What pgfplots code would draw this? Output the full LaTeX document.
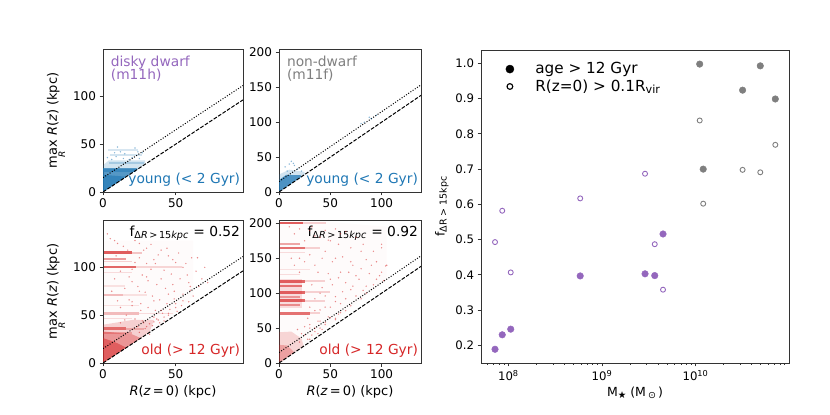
\documentclass[border=0pt]{standalone}
\usepackage{fontspec}
\setmainfont{DejaVu Sans}
\usepackage{pgfplots}
\pgfplotsset{compat=1.18}
\definecolor{tblue}{HTML}{1F77B4}
\definecolor{tred}{HTML}{D62728}
\definecolor{tpurple}{HTML}{9467BD}
\definecolor{tgray}{HTML}{7F7F7F}
\newcommand{\fsz}[1]{\fontsize{#1bp}{#1bp}\selectfont}
\newcommand{\sub}[2]{\raisebox{-0.28ex}{\fsz{#1}#2}}
\newcommand{\maxR}{\ensuremath{\mathop{\hbox{max}}\limits_{\hbox{\fsz{9}\itshape R}}}}
\pgfplotsset{
  panel/.style={
    scale only axis, anchor=south west,
    axis line style={black!80, line width=0.8bp},
    tick align=outside, tick pos=left,
    major tick length=3.5bp, minor tick length=2bp,
    every tick/.style={black!80, line width=0.8bp},
    ticklabel style={font=\fsz{12}},
    label style={font=\fsz{13}},
    /pgf/number format/assume math mode=true,
  },
  small/.style={panel, width=140bp, height=143bp, xmin=0, xmax=96.3, ymin=0, ymax=149.5,
    xtick={0,50}, xticklabels={0,50}, ytick={0,50,100}, yticklabels={0,50,100}},
  big/.style={panel, width=142bp, height=143bp, xmin=0, xmax=138.4, ymin=0, ymax=204.8,
    xtick={0,50,100}, xticklabels={0,50,100}, ytick={0,50,100,150,200}, yticklabels={0,50,100,150,200}},
  dotl/.style={black, line width=1bp, dash pattern=on 1bp off 1.65bp},
  dasl/.style={black, line width=1bp, dash pattern=on 3.7bp off 1.6bp},
  streak/.style 2 args={tred, line width=#1bp, opacity=#2},
  bstreak/.style 2 args={tblue, line width=#1bp, opacity=#2},
  speck/.style={only marks, mark=*, mark size=0.55bp, color=#1, opacity=0.35},
  myleg/.style={legend image code/.code={\path[draw=none,fill=none] (0bp,-3bp) rectangle (29.9bp,3bp); \draw[##1] plot coordinates {(6.4bp,0bp)};}},
}
\begin{document}
\begin{tikzpicture}
\useasboundingbox (0,0) rectangle (830bp,415bp);

% ---------------- top-left: young, m11h
\begin{axis}[small, at={(103bp,223bp)},
  ylabel={\maxR\ \textit{R}(\textit{z}) (kpc)}]
\addplot[fill=tblue, draw=none, fill opacity=0.2] coordinates {(0,0) (29,29) (29,33) (4,33) (0,28)} -- cycle;
\addplot[fill=tblue, draw=none, fill opacity=0.7] coordinates {(0,0) (24,24) (23,25) (0,25)} -- cycle;
\addplot[fill=tblue, draw=none, fill opacity=0.6] coordinates {(0,0) (16,16) (0,18)} -- cycle;
\addplot[bstreak={2}{0.18}] coordinates {(3.7,44.4) (24,44.4)};
\addplot[bstreak={2}{0.2}] coordinates {(5,38.5) (27,38.5)};
\addplot[bstreak={2}{0.25}] coordinates {(4,30) (28,30)};
\addplot[bstreak={2.5}{0.5}] coordinates {(0,22.5) (23,22.5)};
\addplot[speck=tblue] coordinates {(8,41) (12,42) (15,40) (20,36) (6,34) (18,34) (25,35) (10,47) (22,46) (27,41) (3,36) (14,35) (9,37) (24,42)};
\addplot[dotl] coordinates {(0,15) (96.3,111.3)};
\addplot[dasl] coordinates {(0,0) (96.3,96.3)};
\node[anchor=north west, align=left, text=tpurple, font=\fsz{13.8}, inner sep=0pt]
  at (rel axis cs:0.055,0.955) {disky dwarf\\(m11h)};
\node[anchor=south east, text=tblue, font=\fsz{13.8}, inner sep=0pt]
  at (rel axis cs:0.98,0.04) {young (< 2 Gyr)};
\end{axis}

% ---------------- top-right: young, m11f
\begin{axis}[big, at={(279bp,223bp)}]
\addplot[fill=tblue, draw=none, fill opacity=0.2] coordinates {(0,0) (26,26) (24,29) (10,32) (0,25)} -- cycle;
\addplot[fill=tblue, draw=none, fill opacity=0.75] coordinates {(0,0) (22,22) (21,24) (7,24.5) (0,17)} -- cycle;
\addplot[speck=tblue] coordinates {(12,44) (10,40) (15,38) (6,36) (18,33) (8,30) (22,30) (80,98) (83,100) (90,105) (95,110) (88,107) (14,41)};
\addplot[dotl] coordinates {(0,15) (138.4,153.4)};
\addplot[dasl] coordinates {(0,0) (138.4,138.4)};
\node[anchor=north west, align=left, text=tgray, font=\fsz{13.8}, inner sep=0pt]
  at (rel axis cs:0.055,0.955) {non-dwarf\\(m11f)};
\node[anchor=south east, text=tblue, font=\fsz{13.8}, inner sep=0pt]
  at (rel axis cs:0.98,0.04) {young (< 2 Gyr)};
\end{axis}

% ---------------- bottom-left: old, m11h
\begin{axis}[small, at={(103bp,52bp)},
  ylabel={\maxR\ \textit{R}(\textit{z}) (kpc)},
  xlabel={\textit{R}(\textit{z}\,=\,0) (kpc)}]
\addplot[fill=tred, draw=none, fill opacity=0.02] coordinates {(0,0) (40,40) (62,70) (62,128) (0,128)} -- cycle;
\addplot[fill=tred, draw=none, fill opacity=0.2] coordinates {(0,0) (32,32) (35,45) (20,45) (0,40)} -- cycle;
\addplot[fill=tred, draw=none, fill opacity=0.35] coordinates {(0,0) (26,26) (20,30) (0,33)} -- cycle;
\addplot[fill=tred, draw=none, fill opacity=0.5] coordinates {(0,0) (16,16) (8,22) (0,26)} -- cycle;
\addplot[streak={3}{0.75}] coordinates {(0.7,115) (20,115)};
\addplot[streak={2.5}{0.25}] coordinates {(20,115) (27,115)};
\addplot[streak={1.5}{0.45}] coordinates {(0.7,108.8) (16,108.8)};
\addplot[streak={1.5}{0.2}] coordinates {(0.7,106) (20,106)};
\addplot[streak={2.5}{0.7}] coordinates {(0.7,100.4) (23,100.4)};
\addplot[streak={1.5}{0.18}] coordinates {(23,100.4) (54,100.4)};
\addplot[streak={1.5}{0.15}] coordinates {(0.7,94.7) (20,94.7)};
\addplot[streak={1.5}{0.12}] coordinates {(0.7,80.7) (15,80.7)};
\addplot[streak={2}{0.3}] coordinates {(0.7,71.2) (14,71.2)};
\addplot[streak={1.5}{0.12}] coordinates {(14,71.2) (30,71.2)};
\addplot[streak={1.5}{0.12}] coordinates {(0.7,60) (25,60)};
\addplot[streak={2.5}{0.3}] coordinates {(0.7,52) (25,52)};
\addplot[streak={1.5}{0.15}] coordinates {(25,52) (48,52)};
\addplot[streak={1.5}{0.15}] coordinates {(0,46.7) (20,46.7)};
\addplot[streak={3}{0.6}] coordinates {(0.7,36) (16,36)};
\addplot[streak={2}{0.25}] coordinates {(16,36) (28,36)};
\addplot[streak={2}{0.3}] coordinates {(0,31) (20,31)};
\addplot[speck=tred] coordinates {(3,135) (8,128) (14,122) (22,128) (28,118) (33,124) (38,113) (44,120) (48,108) (52,115) (57,104) (61,110) (36,104) (42,97) (47,93) (53,88) (59,84) (64,96) (68,88) (27,92) (31,86) (37,82) (43,78) (49,75) (55,72) (60,76) (66,80) (72,84) (18,90) (24,80) (29,74) (34,70) (39,66) (44,62) (49,67) (54,60) (59,64) (20,64) (26,62) (31,58) (36,55) (41,52) (46,56) (51,54) (16,50) (22,46) (27,44) (32,41) (37,46) (42,44) (24,38) (29,36) (34,39) (39,42) (12,42) (10,65) (6,75) (9,112) (17,118) (25,110) (30,104) (12,96) (20,98) (25,125) (30,120) (40,118) (45,112) (35,108) (50,105) (55,100) (30,90) (20,85) (40,88) (15,78) (25,75) (45,72) (35,65) (50,62) (20,60) (60,80) (10,125) (5,130) (28,42) (35,48) (40,55) (45,50) (50,58) (30,38) (38,45) (42,48) (55,65) (62,70) (48,82) (33,98) (22,105) (58,92) (65,110) (70,100) (18,66) (8,88) (12,58) (26,55) (15,45) (25,32) (35,43) (45,52) (32,30)};
\addplot[dotl] coordinates {(0,15) (96.3,111.3)};
\addplot[dasl] coordinates {(0,0) (96.3,96.3)};
\node[anchor=north east, font=\fsz{13.8}, inner sep=0pt]
  at (rel axis cs:0.98,0.96) {f\textsubscript{Δ\textit{R}\,>\,15\textit{kpc}} = 0.52};
\node[anchor=south east, text=tred, font=\fsz{13.8}, inner sep=0pt]
  at (rel axis cs:0.98,0.04) {old (> 12 Gyr)};
\end{axis}

% ---------------- bottom-right: old, m11f
\begin{axis}[big, at={(279bp,52bp)},
  xlabel={\textit{R}(\textit{z}\,=\,0) (kpc)}]
\addplot[fill=tred, draw=none, fill opacity=0.02] coordinates {(0,0) (50,55) (105,120) (105,195) (50,202) (0,202)} -- cycle;
\addplot[fill=tred, draw=none, fill opacity=0.18] coordinates {(0,0) (24,24) (22,35) (12,45) (0,44)} -- cycle;
\addplot[fill=tred, draw=none, fill opacity=0.3] coordinates {(0,0) (15,15) (8,25) (0,26)} -- cycle;
\addplot[fill=tred, draw=none, fill opacity=0.15] coordinates {(0.5,79) (22,79) (22,121) (0.5,121)} -- cycle;
\addplot[streak={2.5}{0.75}] coordinates {(0.5,200.4) (23,200.4)};
\addplot[streak={2}{0.2}] coordinates {(23,200.4) (46,200.4)};
\addplot[streak={2}{0.4}] coordinates {(0.5,170) (20,170)};
\addplot[streak={2.5}{0.65}] coordinates {(0.5,165) (25,165)};
\addplot[streak={2}{0.2}] coordinates {(25,165) (40,165)};
\addplot[streak={1.5}{0.15}] coordinates {(0.5,158) (25,158)};
\addplot[streak={1.5}{0.12}] coordinates {(0.5,134) (30,134)};
\addplot[streak={1.5}{0.15}] coordinates {(0.5,127) (20,127)};
\addplot[streak={3}{0.7}] coordinates {(0.5,117) (25,117)};
\addplot[streak={2}{0.2}] coordinates {(25,117) (45,117)};
\addplot[streak={2.5}{0.6}] coordinates {(0.5,110) (22,110)};
\addplot[streak={3}{0.7}] coordinates {(0.5,101.6) (25,101.6)};
\addplot[streak={2}{0.2}] coordinates {(25,101.6) (50,101.6)};
\addplot[streak={2}{0.4}] coordinates {(0.5,95) (20,95)};
\addplot[streak={3}{0.7}] coordinates {(0.5,89) (25,89)};
\addplot[streak={2}{0.2}] coordinates {(25,89) (45,89)};
\addplot[streak={2}{0.45}] coordinates {(0.5,83) (20,83)};
\addplot[streak={2.5}{0.65}] coordinates {(0.5,71) (30,71)};
\addplot[streak={2}{0.2}] coordinates {(30,71) (40,71)};
\addplot[speck=tred] coordinates {(10,195) (20,192) (32,195) (45,190) (55,192) (65,188) (75,180) (35,182) (48,176) (58,170) (70,165) (82,170) (92,160) (100,165) (30,155) (42,150) (52,145) (62,152) (72,140) (85,148) (95,145) (105,140) (38,130) (48,128) (58,122) (68,130) (78,120) (88,128) (98,125) (32,112) (42,108) (52,112) (62,102) (72,110) (82,104) (92,112) (102,118) (35,92) (45,96) (55,88) (65,92) (75,96) (85,100) (30,80) (40,76) (50,80) (60,72) (70,82) (80,92) (28,64) (38,60) (48,66) (58,70) (25,52) (35,50) (45,58) (55,64) (22,42) (32,40) (42,48) (30,34) (38,42) (15,140) (20,130) (12,150) (25,145) (30,190) (40,180) (50,175) (60,185) (45,160) (55,150) (70,145) (35,140) (60,130) (80,135) (50,120) (65,115) (75,125) (90,140) (40,100) (55,95) (70,105) (85,110) (95,120) (45,80) (60,85) (35,75) (50,65) (30,55) (40,60) (65,75) (100,130) (104,139) (20,150) (15,185) (25,175) (80,160) (100,170) (30,50) (35,45) (25,40) (45,55) (55,62) (20,30) (40,50) (28,34) (18,48)};
\addplot[dotl] coordinates {(0,15) (138.4,153.4)};
\addplot[dasl] coordinates {(0,0) (138.4,138.4)};
\node[anchor=north east, font=\fsz{13.8}, inner sep=0pt]
  at (rel axis cs:0.98,0.96) {f\textsubscript{Δ\textit{R}\,>\,15\textit{kpc}} = 0.92};
\node[anchor=south east, text=tred, font=\fsz{13.8}, inner sep=0pt]
  at (rel axis cs:0.98,0.04) {old (> 12 Gyr)};
\end{axis}

% ---------------- right panel
\begin{axis}[panel, at={(481bp,52bp)}, width=308bp, height=313bp,
  xmode=log, xmin=5.1e7, xmax=1.0e11, ymin=0.15, ymax=1.038,
  xtick={1e8,1e9,1e10}, xticklabels={10\textsuperscript{8},10\textsuperscript{9},10\textsuperscript{10}},
  minor xtick={6e7,7e7,8e7,9e7,2e8,3e8,4e8,5e8,6e8,7e8,8e8,9e8,2e9,3e9,4e9,5e9,6e9,7e9,8e9,9e9,2e10,3e10,4e10,5e10,6e10,7e10,8e10,9e10},
  ytick={0.2,0.3,0.4,0.5,0.6,0.7,0.8,0.9,1.0},
  yticklabels={0.2,0.3,0.4,0.5,0.6,0.7,0.8,0.9,1.0},
  ticklabel style={font=\fsz{11.7}},
  label style={font=\fsz{12.5}},
  xlabel={M\sub{9.5}{★} (M\,\sub{9.5}{⊙}\,)},
  ylabel={f\sub{9.5}{ΔR > 15kpc}},
  legend style={at={(rel axis cs:0,1)}, anchor=north west, xshift=19.3bp, yshift=-8.5bp,
    draw=none, fill=none, row sep=0.5bp},
  legend cell align=left,
]
\addlegendimage{only marks, mark=*, mark size=4.07bp, black, myleg}
\addlegendentry{\fontsize{15.3}{17}\selectfont age > 12 Gyr}
\addlegendimage{only marks, mark=o, mark size=2.86bp, black, line width=1.14bp, myleg}
\addlegendentry{\fontsize{15.3}{17}\selectfont R(z=0) > 0.1R\sub{11.2}{vir}}
\addplot[only marks, mark=*, mark size=3.3bp, tpurple, forget plot] coordinates {
 (7.2e7,0.189) (8.6e7,0.230) (1.06e8,0.246) (5.86e8,0.397) (2.89e9,0.403) (3.67e9,0.398) (4.5e9,0.516)};
\addplot[only marks, mark=*, mark size=3.3bp, tgray, forget plot] coordinates {
 (1.11e10,0.998) (1.21e10,0.700) (3.19e10,0.924) (4.93e10,0.993) (7.14e10,0.899)};
\addplot[only marks, mark=o, mark size=2.5bp, line width=0.9bp, tpurple, forget plot] coordinates {
 (7.2e7,0.493) (8.6e7,0.582) (1.06e8,0.407) (5.86e8,0.617) (2.89e9,0.687) (3.67e9,0.487) (4.5e9,0.358)};
\addplot[only marks, mark=o, mark size=2.5bp, line width=0.9bp, tgray, forget plot] coordinates {
 (1.11e10,0.838) (1.21e10,0.602) (3.19e10,0.698) (4.93e10,0.691) (7.14e10,0.769)};
\end{axis}
\end{tikzpicture}
\end{document}
